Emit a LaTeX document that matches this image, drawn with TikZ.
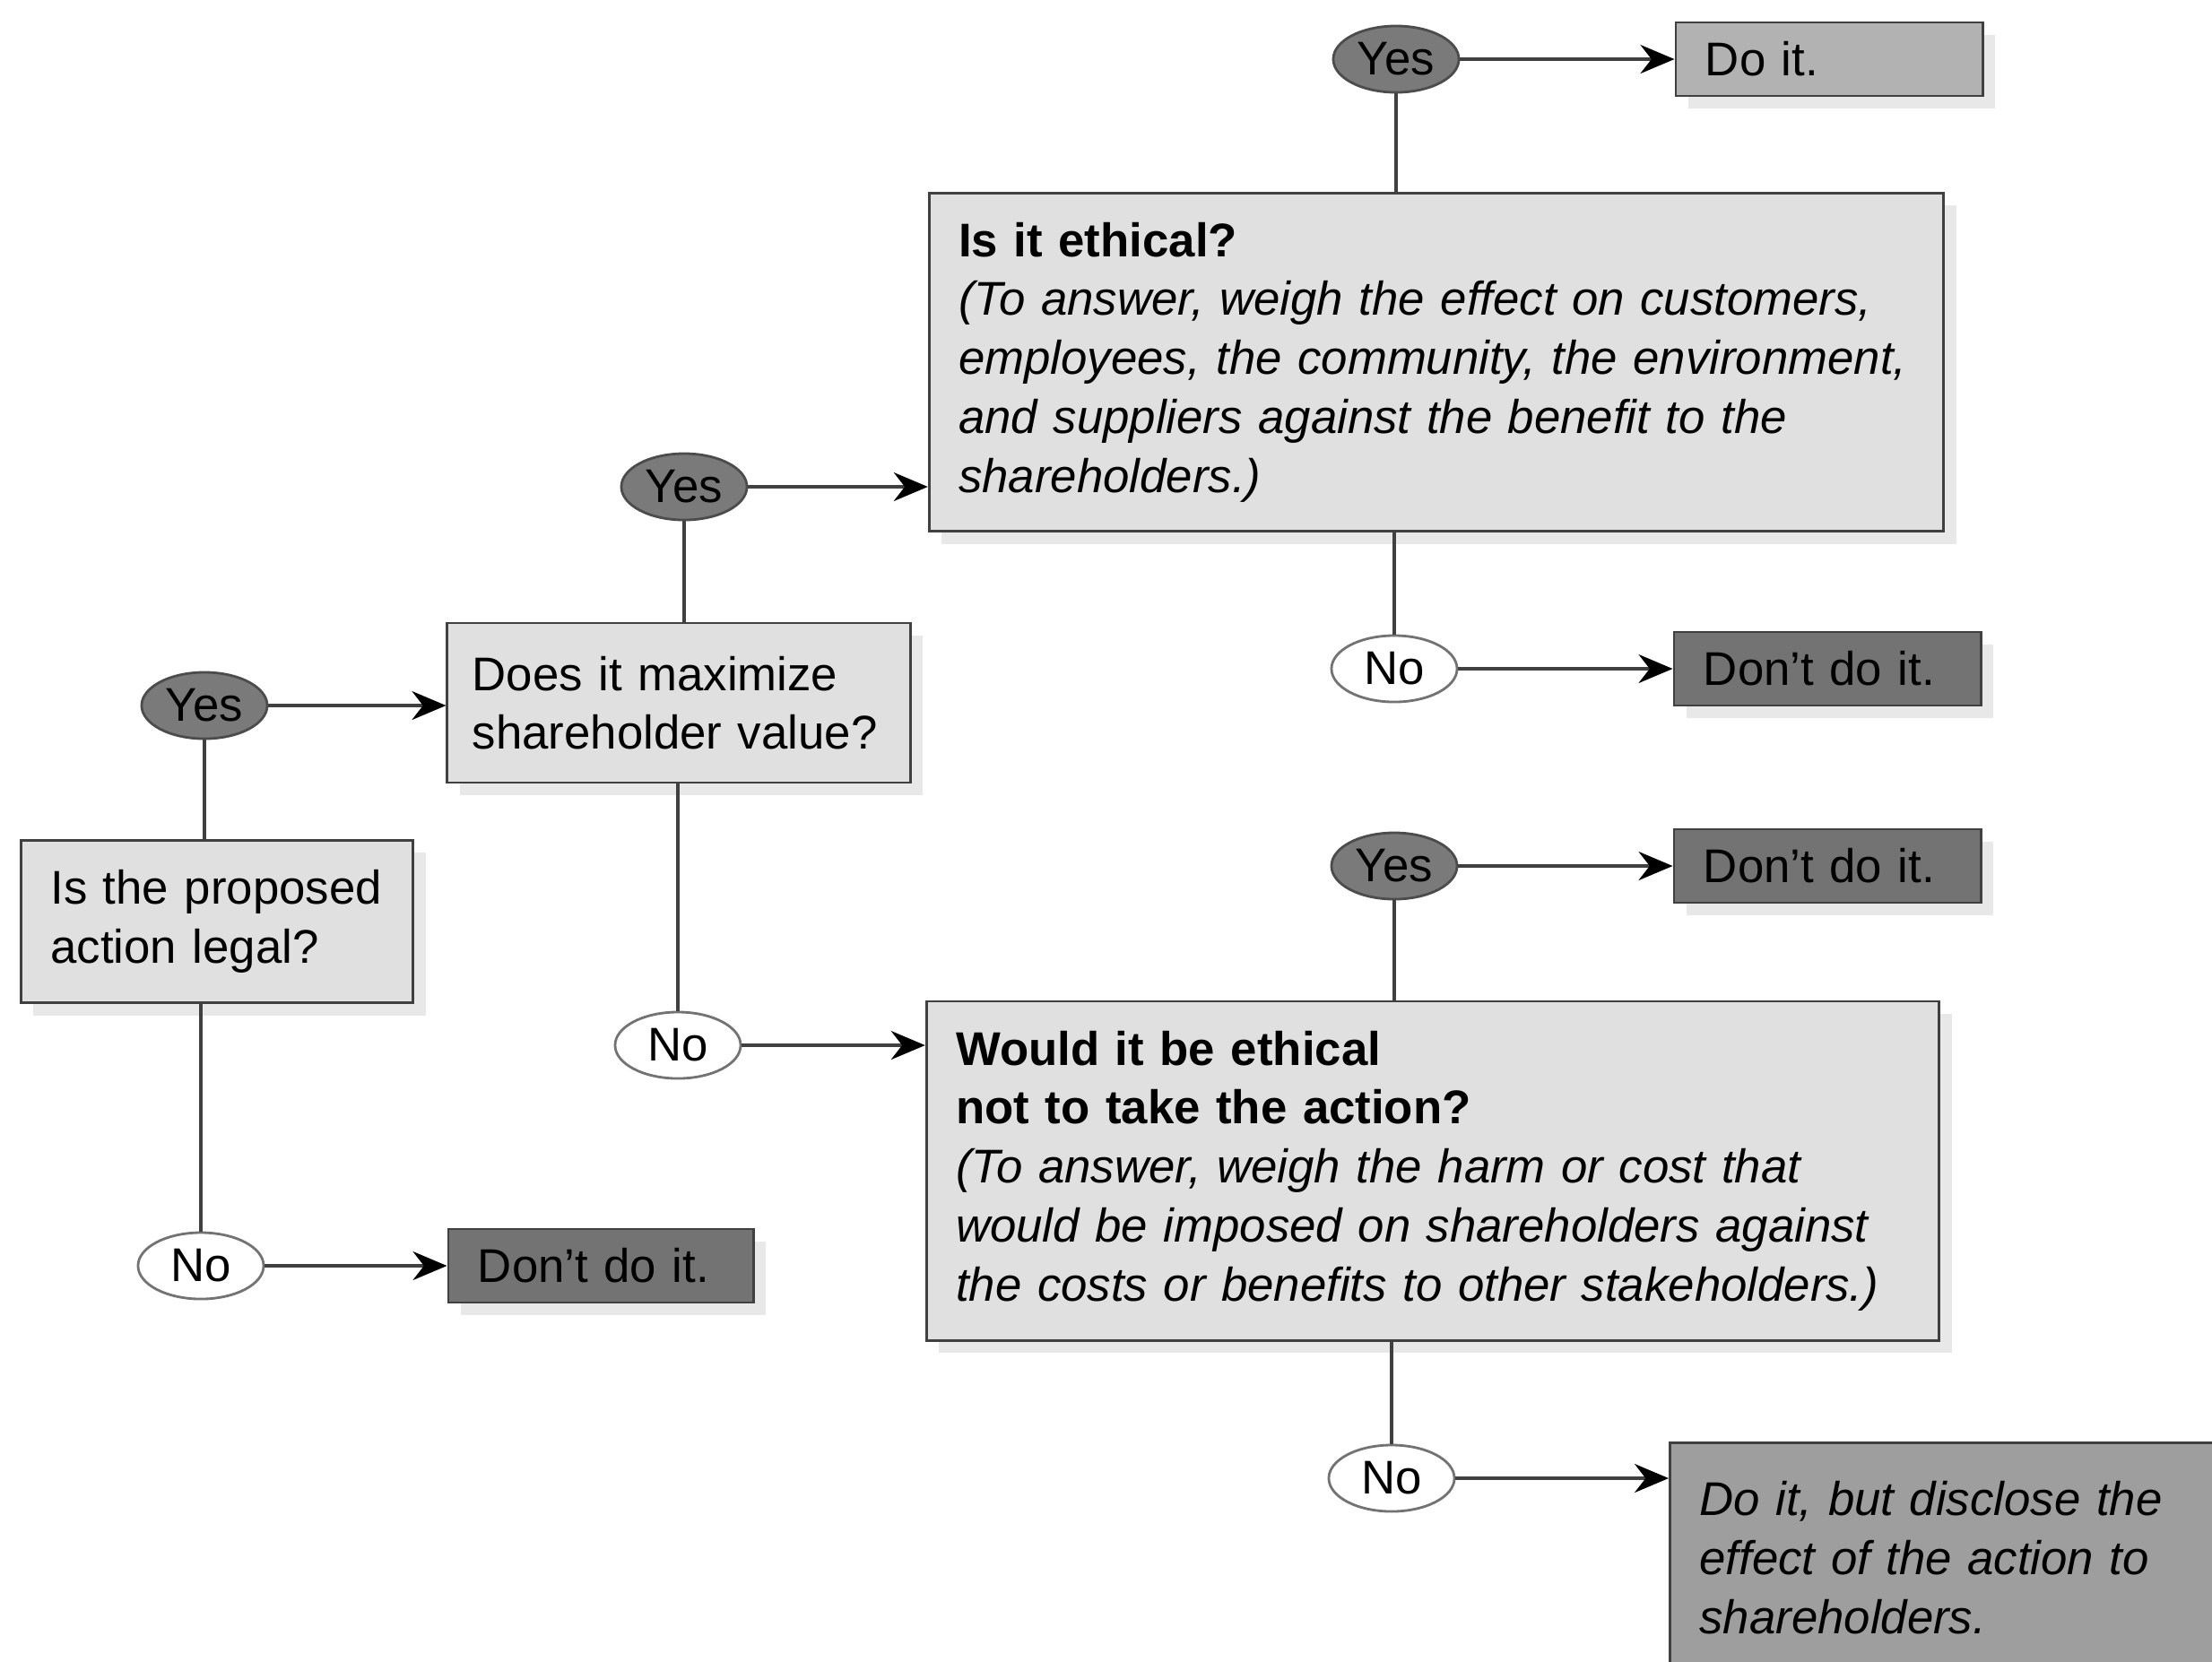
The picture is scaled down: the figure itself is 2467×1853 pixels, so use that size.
\documentclass[tikz,border=0pt]{standalone}
\usepackage{fontspec}
\setmainfont{Liberation Sans}
\usetikzlibrary{shapes.geometric, arrows.meta, shadows}

\begin{document}
\begin{tikzpicture}[
			x=0.01cm,
			y=-0.01cm,
			every node/.style={
					font=\fontsize{15}{18.7}\selectfont
				},
			qbox/.style={
					draw=black!75,
					line width=0.8pt,
					fill=black!12,
					align=left,
					inner xsep=0.33cm, % Space between text and the box border
					inner ysep=0pt,
					drop shadow={shadow xshift=0.14cm, shadow yshift=-0.14cm, opacity=0.18}
				},
			dobox/.style={qbox, fill=black!30},
			dontbox/.style={qbox, fill=black!55},
			yes/.style={
					ellipse, draw=black!70, line width=0.8pt, fill=black!52,
					minimum width=1.40cm, minimum height=0.74cm, inner sep=0pt
				},
			no/.style={yes, draw=black!55, fill=white},
			link/.style={draw=black!75, line width=0.9pt},
			arrow/.style={link, -{Stealth[length=0.38cm, width=0.32cm, black]}}
		]
		\useasboundingbox (0,0) rectangle (2467,1853);
		\clip (0,0) rectangle (2467,1853);

		% questions
		\node[qbox, text width=3.71cm, minimum height=1.81cm] (legal) at (242,1028) {Is the proposed\\action legal?};
		\node[qbox, inner xsep=0.28cm, text width=4.6cm, minimum height=1.78cm] (maxi) at (757,784) {Does it maximize\\shareholder value?};
		\node[qbox, text width=10.65cm, minimum height=3.77cm] (ethic) at (1602,404) {%
			\textbf{Is it ethical?}\\
			\textit{(To answer, weigh the effect on customers,}\\
			\textit{employees, the community, the environment,}\\
			\textit{and suppliers against the benefit to the}\\
			\textit{shareholders.)}};
		\node[qbox, text width=10.63cm, minimum height=3.78cm] (would) at (1598,1306) {%
			\textbf{Would it be ethical}\\
			\textbf{not to take the action?}\\
			\textit{(To answer, weigh the harm or cost that}\\
			\textit{would be imposed on shareholders against}\\
			\textit{the costs or benefits to other stakeholders.)}};

		% answers
		\node[dobox, text width=2.76cm, minimum height=0.82cm] (doit) at (2040,66) {Do it.};
		\node[dontbox, text width=2.76cm, minimum height=0.82cm] (dont1) at (2038,746) {Don't do it.};
		\node[dontbox, text width=2.76cm, minimum height=0.82cm] (dont2) at (2038,966) {Don't do it.};
		\node[dontbox, text width=2.74cm, minimum height=0.82cm] (dontL) at (670,1412) {Don't do it.};
		\node[qbox, fill=black!38, anchor=north west, text width=5.6cm, minimum height=2.56cm] (disclose) at (1861,1608) {%
			\textit{Do it, but disclose the}\\
			\textit{effect of the action to}\\
			\textit{shareholders.}};

		% yes / no
		\node[yes] (yesL) at (228,787) {Yes};
		\node[no] (noL) at (224,1412) {No};
		\node[yes] (yesM) at (763,543) {Yes};
		\node[no] (noM) at (756,1166) {No};
		\node[yes] (yesT) at (1557,66) {Yes};
		\node[no] (noT) at (1555,746) {No};
		\node[yes] (yesB) at (1555,966) {Yes};
		\node[no] (noB) at (1552,1649) {No};

		% connectors
		\draw[link] (yesL) -- (yesL |- legal.north);
		\draw[link] (legal.south -| noL) -- (noL);
		\draw[arrow] (yesL) -- (maxi.west |- yesL);
		\draw[arrow] (noL) -- (dontL);

		\draw[link] (yesM) -- (yesM |- maxi.north);
		\draw[link] (maxi.south -| noM) -- (noM);
		\draw[arrow] (yesM) -- (ethic.west |- yesM);
		\draw[arrow] (noM) -- (would.west |- noM);

		\draw[link] (yesT) -- (yesT |- ethic.north);
		\draw[link] (ethic.south -| noT) -- (noT);
		\draw[arrow] (yesT) -- (doit);
		\draw[arrow] (noT) -- (dont1);

		\draw[link] (yesB) -- (yesB |- would.north);
		\draw[link] (would.south -| noB) -- (noB);
		\draw[arrow] (yesB) -- (dont2);
		\draw[arrow] (noB) -- (disclose.west |- noB);
	\end{tikzpicture}
\end{document}
